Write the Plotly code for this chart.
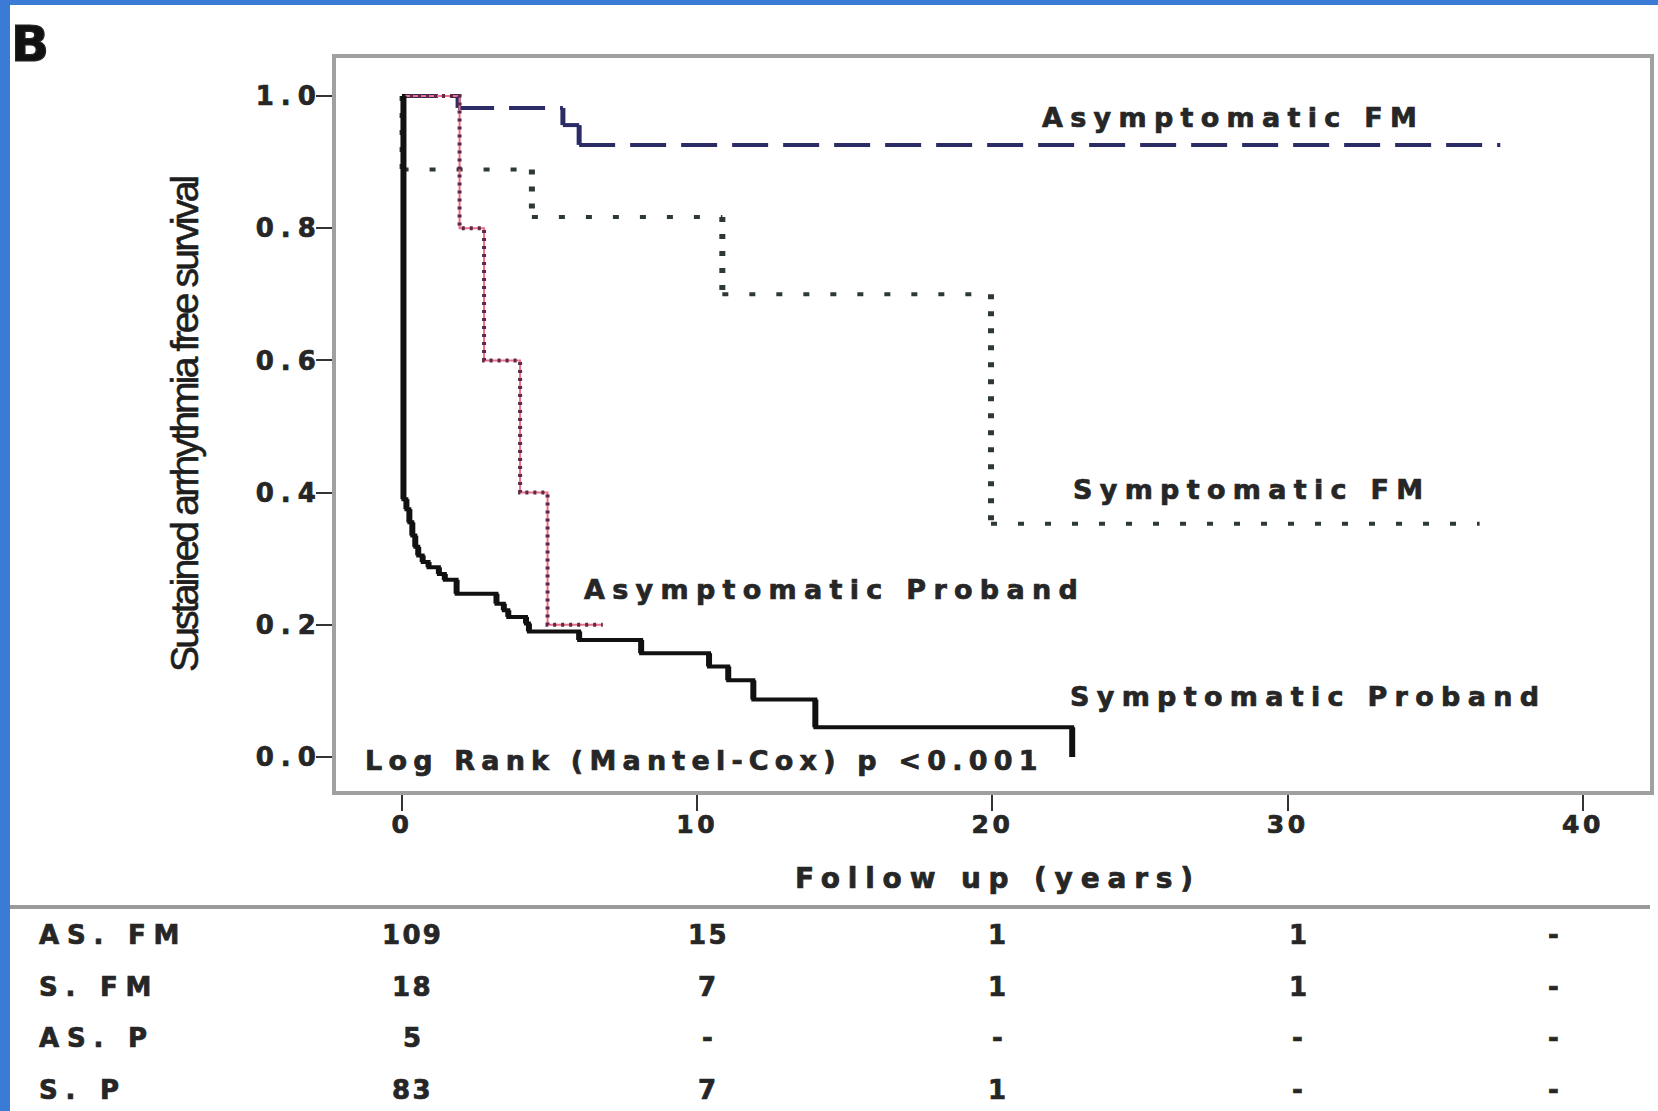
import plotly.graph_objects as go

# ---------------- data ----------------
# Kaplan-Meier step points: time (years) and survival after the step
asfm_time = [0, 1.9, 5.45, 6.0, 37.2]
asfm_surv = [1.0, 0.982, 0.956, 0.926, 0.926]

sfm_time = [0, 0.02, 4.4, 10.85, 19.95, 36.5]
sfm_surv = [1.0, 0.889, 0.817, 0.700, 0.353, 0.353]

asp_time = [0, 1.95, 2.78, 4.0, 4.93, 6.8]
asp_surv = [1.0, 0.8, 0.6, 0.4, 0.2, 0.2]

sp_time = [0, 0.05, 0.15, 0.25, 0.35, 0.45, 0.55, 0.7, 0.9, 1.25, 1.45, 1.85,
           3.2, 3.45, 3.6, 4.2, 4.3, 6.0, 8.1, 10.4, 11.05, 11.9, 14.0, 22.7]
sp_surv = [1.0, 0.39, 0.375, 0.355, 0.335, 0.318, 0.305, 0.295, 0.287, 0.277,
           0.268, 0.247, 0.232, 0.222, 0.212, 0.202, 0.19, 0.177, 0.157, 0.137,
           0.116, 0.087, 0.045, 0.0]

curve_labels = ["Asymptomatic FM", "Symptomatic FM", "Asymptomatic Proband", "Symptomatic Proband"]
stat_text = "Log Rank (Mantel-Cox) p &lt;0.001"
panel_letter = "B"
x_title = "Follow up (years)"
y_title = "Sustained arrhythmia free survival"

x_ticks = [0, 10, 20, 30, 40]
x_ticktext = ["0", "10", "20", "30", "40"]
y_ticks = [0.0, 0.2, 0.4, 0.6, 0.8, 1.0]
y_ticktext = ["0.0", "0.2", "0.4", "0.6", "0.8", "1.0"]

risk_labels = ["AS. FM", "S. FM", "AS. P", "S. P"]
risk_times = [0, 10, 20, 30, 40]
risk_asfm = ["109", "15", "1", "1", "-"]
risk_sfm = ["18", "7", "1", "1", "-"]
risk_asp = ["5", "-", "-", "-", "-"]
risk_sp = ["83", "7", "1", "-", "-"]
risk_rows = [risk_asfm, risk_sfm, risk_asp, risk_sp]

# ---------------- helpers ----------------
W, H = 1658, 1111


def px(xp):
    return xp / W


def py(yp):
    return 1 - yp / H


def step_segments(t, s):
    hx, hy, vx, vy = [], [], [], []
    for i in range(len(t) - 1):
        hx += [t[i], t[i + 1], None]
        hy += [s[i], s[i], None]
        vx += [t[i + 1], t[i + 1], None]
        vy += [s[i], s[i + 1], None]
    return hx, hy, vx, vy


TXT = "#262626"


def spaced(txt, ls, stroke=0.7):
    return (f"<span style='letter-spacing:{ls}px;stroke:{TXT};stroke-width:{stroke}px'>"
            f"{txt}</span>")


BOLD = "DejaVu Sans"

fig = go.Figure()

# Asymptomatic FM - navy dashed
hx, hy, vx, vy = step_segments(asfm_time, asfm_surv)
fig.add_trace(go.Scatter(x=hx, y=hy, mode="lines", line=dict(color="#2b2b66", width=4, dash="36px,15px")))
fig.add_trace(go.Scatter(x=vx, y=vy, mode="lines", line=dict(color="#2b2b66", width=5)))

# Symptomatic FM - dark dotted
hx, hy, vx, vy = step_segments(sfm_time, sfm_surv)
fig.add_trace(go.Scatter(x=hx, y=hy, mode="lines", line=dict(color="#2e3838", width=4, dash="6px,21px")))
fig.add_trace(go.Scatter(x=vx, y=vy, mode="lines", line=dict(color="#2e3838", width=6, dash="5px,12px")))

# Asymptomatic proband - red dotted
fig.add_trace(go.Scatter(x=asp_time, y=asp_surv, mode="lines", line=dict(color="#ec6f86", width=2, shape="hv")))
fig.add_trace(go.Scatter(x=asp_time, y=asp_surv, mode="lines",
                         line=dict(color="#5a2a48", width=4, dash="3px,5px", shape="hv")))

# Symptomatic proband - black solid
hx, hy, vx, vy = step_segments(sp_time, sp_surv)
fig.add_trace(go.Scatter(x=sp_time, y=sp_surv, mode="lines", line=dict(color="#111111", width=4, shape="hv")))
fig.add_trace(go.Scatter(x=vx, y=vy, mode="lines", line=dict(color="#111111", width=6)))

annotations = []

# curve labels (data coordinates)
label_pos = [(28.0, 0.968), (28.65, 0.404), (14.5, 0.253), (30.55, 0.092)]
for lab, (lx, ly) in zip(curve_labels, label_pos):
    annotations.append(dict(x=lx, y=ly, xref="x", yref="y", text=spaced(lab, 7.3), showarrow=False,
                            xanchor="center", yanchor="middle", xshift=4,
                            font=dict(family=BOLD, size=27, color=TXT, weight="bold")))
annotations.append(dict(x=10.16, y=-0.006, xref="x", yref="y", text=spaced(stat_text, 6.2), showarrow=False,
                        xanchor="center", yanchor="middle", xshift=3,
                        font=dict(family=BOLD, size=27, color=TXT, weight="bold")))

# panel letter
annotations.append(dict(x=px(9), y=py(44), xref="paper", yref="paper", text=spaced(panel_letter, 0, 1.2),
                        showarrow=False, xanchor="left", yanchor="middle",
                        font=dict(family=BOLD, size=50, color="#111111", weight="bold")))

# axis titles
annotations.append(dict(x=px(994), y=py(878), xref="paper", yref="paper", text=spaced(x_title, 7.8),
                        showarrow=False, xanchor="center", yanchor="middle", xshift=4,
                        font=dict(family=BOLD, size=28, color=TXT, weight="bold")))
annotations.append(dict(x=px(184), y=py(424), xref="paper", yref="paper",
                        text=f"<span style='letter-spacing:-2.8px;stroke:#1e1e1e;stroke-width:0.6px'>{y_title}</span>",
                        textangle=-90, showarrow=False, xanchor="center", yanchor="middle",
                        font=dict(family="Liberation Sans", size=39, color="#1e1e1e")))

# risk table
row_y = [935, 987, 1038, 1090]
col_shift = [10, 10, 5, 10, -29]
for lab, vals, ry in zip(risk_labels, risk_rows, row_y):
    annotations.append(dict(x=px(37), y=py(ry), xref="paper", yref="paper", text=spaced(lab, 7.8),
                            showarrow=False, xanchor="left", yanchor="middle",
                            font=dict(family=BOLD, size=26, color=TXT, weight="bold")))
    for t, v, cs in zip(risk_times, vals, col_shift):
        annotations.append(dict(x=t, y=py(ry), xref="x", yref="paper", text=spaced(v, 2.3),
                                showarrow=False, xanchor="center", yanchor="middle", xshift=cs + 1,
                                font=dict(family=BOLD, size=26, color=TXT, weight="bold")))

shapes = [
    dict(type="rect", xref="paper", yref="paper", x0=0, x1=px(10), y0=0, y1=1,
         fillcolor="#3b7bd6", line=dict(width=0)),
    dict(type="rect", xref="paper", yref="paper", x0=0, x1=1, y0=py(5), y1=1,
         fillcolor="#3b7bd6", line=dict(width=0)),
    dict(type="line", xref="paper", yref="paper", x0=px(10), x1=px(1650), y0=py(907), y1=py(907),
         line=dict(color="#9a9a9a", width=4)),
]

fig.update_layout(
    width=W, height=H,
    margin=dict(l=0, r=0, t=0, b=0),
    paper_bgcolor="white", plot_bgcolor="white",
    showlegend=False, hovermode=False,
    annotations=annotations, shapes=shapes,
    xaxis=dict(domain=[px(336), px(1650)], range=[-2.235, 42.27], showgrid=False, zeroline=False,
               showline=True, mirror=True, linecolor="#a0a0a0", linewidth=4,
               ticks="outside", ticklen=16, tickwidth=2, tickcolor="#333333",
               tickvals=x_ticks, ticktext=[spaced(t, 3.5) for t in x_ticktext], ticklabelstandoff=-8,
               tickfont=dict(family=BOLD, size=25, color=TXT, weight="bold")),
    yaxis=dict(domain=[py(791), py(58)], range=[-0.0514, 1.0575], showgrid=False, zeroline=False,
               showline=True, mirror=True, linecolor="#a0a0a0", linewidth=4,
               ticks="outside", ticklen=16, tickwidth=2, tickcolor="#333333",
               tickvals=y_ticks, ticktext=[spaced(t, 7) for t in y_ticktext], ticklabelstandoff=-12,
               tickfont=dict(family=BOLD, size=26, color=TXT, weight="bold")),
)

fig.write_html("out.html")
